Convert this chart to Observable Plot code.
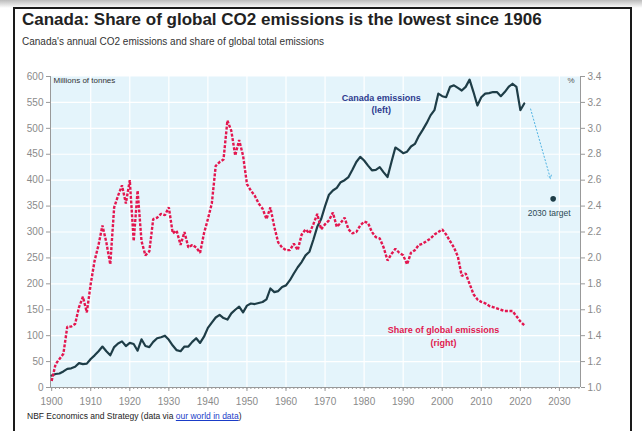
<!DOCTYPE html>
<html><head><meta charset="utf-8">
<script src="https://cdn.jsdelivr.net/npm/d3@7"></script>
<script src="https://cdn.jsdelivr.net/npm/@observablehq/plot@0.6"></script>
<style>
body{margin:0;background:#fff;font-family:"Liberation Sans",Arial,sans-serif;}
#wrap{position:relative;width:642px;height:431px;overflow:hidden;background:#fff;}
#shade{position:absolute;left:0;top:0;width:642px;height:8px;background:linear-gradient(#bbb,#fff);}
#frame{position:absolute;left:13px;top:7px;width:619px;height:450px;border:2px solid #1a1a1a;box-sizing:border-box;}
#title{position:absolute;left:22px;top:10px;font-size:17px;font-weight:bold;color:#222;white-space:nowrap;}
#subtitle{position:absolute;left:22px;top:36px;font-size:10px;color:#333;white-space:nowrap;}
#chart{position:absolute;left:0;top:60px;}
#caption{position:absolute;left:27px;top:411px;font-size:8.5px;color:#222;white-space:nowrap;}
#caption a{color:#1a3cc8;text-decoration:underline;}
</style></head>
<body><div id="wrap">
<div id="shade"></div>
<div id="frame"></div>
<div id="title">Canada: Share of global CO2 emissions is the lowest since 1906</div>
<div id="subtitle">Canada's annual CO2 emissions and share of global total emissions</div>
<div id="chart"></div>
<div id="caption">NBF Economics and Strategy (data via <a>our world in data</a>)</div>
</div>
<script>
const years = d3.range(1900, 2022);
// Canada annual CO2 emissions, millions of tonnes (left axis)
const canada = [
 23,26,27,31,36,37,40,47,45,46,
 55,62,70,79,70,62,78,85,89,80,
 86,84,71,93,80,78,88,95,97,100,
 92,81,72,70,79,79,88,95,86,98,
 115,125,135,140,134,131,143,150,156,145,
 158,162,161,163,165,170,191,184,186,194,
 197,207,220,232,242,255,262,285,310,325,
 350,372,380,385,396,400,406,420,435,445,
 438,428,419,420,425,415,406,435,463,458,
 452,455,465,470,485,497,510,525,535,567,
 562,560,580,583,578,573,580,594,570,544,
 560,567,568,570,570,562,570,580,586,580,
 535,548];
// Share of global emissions, % (right axis)
const share = [
 1.05,1.18,1.22,1.26,1.47,1.47,1.49,1.62,1.70,1.58,
 1.80,1.98,2.10,2.25,2.12,1.95,2.39,2.48,2.56,2.42,
 2.60,2.13,2.52,2.13,2.02,2.05,2.30,2.31,2.34,2.33,
 2.39,2.19,2.21,2.10,2.20,2.08,2.10,2.08,2.04,2.19,
 2.30,2.42,2.71,2.74,2.76,3.06,2.98,2.79,2.91,2.79,
 2.57,2.52,2.48,2.42,2.38,2.30,2.39,2.24,2.12,2.08,
 2.06,2.06,2.11,2.06,2.18,2.22,2.19,2.26,2.34,2.22,
 2.26,2.29,2.35,2.24,2.27,2.31,2.22,2.19,2.20,2.25,
 2.28,2.27,2.20,2.16,2.15,2.08,1.98,2.03,2.07,2.04,
 2.02,1.95,2.04,2.06,2.10,2.11,2.13,2.15,2.18,2.20,
 2.22,2.18,2.13,2.08,2.01,1.86,1.88,1.80,1.72,1.68,
 1.66,1.65,1.63,1.62,1.61,1.60,1.59,1.59,1.59,1.55,
 1.51,1.48];
const targetYear = [2028.4];
const targetValue = [364];
const arrowFrom = {year: 2022.6, value: 538};
const arrowTo = {year: 2027.7, value: 403};
const leftTicks = d3.range(0, 601, 50);
const decadeTicks = d3.range(1900, 2031, 10);
const xDomain = [1899.7, 2035.4];

const S = 250; // 1 % point of share = 250 Mt on the left scale (1.0 -> 0, 3.4 -> 600)
const toLeft = s => (s - 1) * S;
const emis = years.map((y, i) => ({year: y, value: canada[i]}));
const shr = years.map((y, i) => ({year: y, value: toLeft(share[i])}));
const target = targetYear.map((y, i) => ({year: y, value: targetValue[i]}));

const chart = Plot.plot({
  width: 642, height: 355,
  marginLeft: 50, marginRight: 62, marginTop: 16, marginBottom: 28,
  style: {fontFamily: "Liberation Sans, Arial, sans-serif", fontSize: "10px", color: "#888", background: "transparent"},
  x: {domain: xDomain},
  y: {domain: [0, 600]},
  marks: [
    Plot.frame({fill: "#e4f4fb", stroke: null}),
    Plot.gridY(leftTicks.filter(d => d > 0 && d < 600), {stroke: "#fff", strokeOpacity: 1, strokeWidth: 1.2}),
    Plot.gridX(decadeTicks.filter(d => d > 1900), {stroke: "#fff", strokeOpacity: 1, strokeWidth: 1.2}),
    Plot.axisY(leftTicks, {anchor: "left", tickSize: 4, tickPadding: 3, stroke: "#999", fill: "#8a8a8a", label: null}),
    Plot.axisY(leftTicks, {anchor: "right", tickSize: 4, tickPadding: 3, stroke: "#999", fill: "#8a8a8a", label: null, tickFormat: d => (1 + d / S).toFixed(1)}),
    Plot.axisX(decadeTicks, {tickSize: 4, tickPadding: 6, stroke: "#999", fill: "#8a8a8a", label: null, tickFormat: d => String(d)}),
    Plot.axisX(d3.range(1900, 2036, 1), {tickSize: 2, text: null, stroke: "#999", label: null}),
    Plot.ruleY([0], {stroke: "#999"}),
    Plot.ruleX(xDomain, {stroke: "#999"}),
    Plot.text(["Millions of tonnes"], {frameAnchor: "top-left", dx: 3, dy: 1, fill: "#333", fontSize: 8, textAnchor: "start"}),
    Plot.text(["%"], {frameAnchor: "top-right", dx: -6, dy: 1, fill: "#555", fontSize: 8}),
    Plot.line(emis, {x: "year", y: "value", stroke: "#1e3d47", strokeWidth: 2.2}),
    Plot.line(shr, {x: "year", y: "value", stroke: "#e3164f", strokeWidth: 2.4, strokeDasharray: "3,1.6", strokeLinecap: "butt", strokeLinejoin: "miter"}),
    Plot.arrow([{a: arrowFrom, b: arrowTo}], {x1: d => d.a.year, y1: d => d.a.value, x2: d => d.b.year, y2: d => d.b.value, stroke: "#4fb3e3", strokeWidth: 1, strokeDasharray: "2,1.5", strokeLinecap: "butt", headLength: 6, bend: 0}),
    Plot.dot(target, {x: "year", y: "value", r: 2.8, fill: "#1e3d47", stroke: null}),
    Plot.text(target, {x: "year", y: "value", text: () => "2030 target", dy: 14, dx: -4, fill: "#2c4a55", fontSize: 8.5}),
    Plot.text(["Canada emissions\n(left)"], {x: 1984.4, y: 549, fill: "#2d3b8e", fontSize: 9, fontWeight: "bold", lineHeight: 1.4}),
    Plot.text(["Share of global emissions\n(right)"], {x: 2000.3, y: 100, fill: "#e0194f", fontSize: 9, fontWeight: "bold", lineHeight: 1.4})
  ]
});
document.getElementById("chart").appendChild(chart);
</script>
</body></html>
